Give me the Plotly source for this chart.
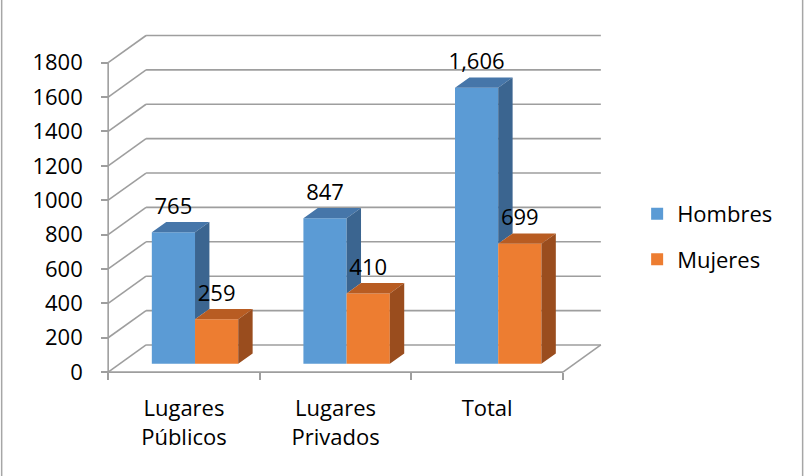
import plotly.graph_objects as go

# ---- data ----
categories = ["Lugares<br>Públicos", "Lugares<br>Privados", "Total"]
series_names = ["Hombres", "Mujeres"]
hombres = [765, 847, 1606]
mujeres = [259, 410, 699]
y_ticks = [0, 200, 400, 600, 800, 1000, 1200, 1400, 1600, 1800]

# ---- styling / pseudo-3D geometry (x in category units, y in value units) ----
FONT = "Open Sans"
FS = 22
GRID = "#9e9e9e"
FRONT = ["#5B9BD5", "#ED7D31"]
TOP = ["#4676A9", "#B85C22"]
SIDE = ["#3B6590", "#9A4D1E"]

BAR_W = 0.285          # width of each bar face
FRONT_DX, FRONT_DV = 0.073, 48    # offset of the bar front plane from the floor front edge
DEPTH_DX, DEPTH_DV = 0.095, 60    # depth of each bar
WALL_DX, WALL_DV = 0.25, 158      # depth of the back wall
LABEL_DV = 140                    # gap between a bar's front top and its value label
N = len(categories)

XL, XR = -0.1, 3.35
YB, YT = -40, 1990

values = [hombres, mujeres]

fig = go.Figure()

# front faces of the bars
lefts = []
for s, vals in enumerate(values):
    left = [i + 0.5 + FRONT_DX - BAR_W + s * BAR_W for i in range(N)]
    lefts.append(left)
    fig.add_trace(go.Bar(
        x=[l + BAR_W / 2 for l in left], y=vals, base=FRONT_DV, width=BAR_W,
        name=series_names[s], legendgroup=series_names[s],
        marker=dict(color=FRONT[s], line=dict(width=0)),
        hoverinfo="skip",
    ))

# top and side faces
for s, vals in enumerate(values):
    tx, ty, sx, sy = [], [], [], []
    for i, v in enumerate(vals):
        L = lefts[s][i]
        R = L + BAR_W
        top = FRONT_DV + v
        tx += [L, R, R + DEPTH_DX, L + DEPTH_DX, L, None]
        ty += [top, top, top + DEPTH_DV, top + DEPTH_DV, top, None]
        # the lower part of the first series' side face is hidden by the next bar
        low = FRONT_DV + (values[s + 1][i] if s + 1 < len(values) else 0)
        sx += [R, R + DEPTH_DX, R + DEPTH_DX, R, R, None]
        sy += [low, low + DEPTH_DV, top + DEPTH_DV, top, low, None]
    fig.add_trace(go.Scatter(x=tx, y=ty, mode="lines", fill="toself",
                             fillcolor=TOP[s], line=dict(width=0, color=TOP[s]),
                             showlegend=False, hoverinfo="skip"))
    fig.add_trace(go.Scatter(x=sx, y=sy, mode="lines", fill="toself",
                             fillcolor=SIDE[s], line=dict(width=0, color=SIDE[s]),
                             showlegend=False, hoverinfo="skip"))

# value labels
for s, vals in enumerate(values):
    fig.add_trace(go.Scatter(
        x=[l + BAR_W / 2 for l in lefts[s]],
        y=[FRONT_DV + v + LABEL_DV for v in vals],
        mode="text", text=[f"{v:,}" for v in vals],
        textposition="middle center",
        textfont=dict(family=FONT, size=FS, color="black"),
        showlegend=False, hoverinfo="skip", cliponaxis=False,
    ))

# invisible trace carrying the tick-mark axis
fig.add_trace(go.Scatter(x=[None], y=[None], xaxis="x2", showlegend=False, hoverinfo="skip"))

# walls, floor and gridlines
shapes = []
line = dict(color=GRID, width=1.6)
for v in y_ticks:
    shapes.append(dict(type="line", xref="x", yref="y", x0=0, y0=v, x1=WALL_DX, y1=v + WALL_DV,
                       line=line, layer="below"))
    shapes.append(dict(type="line", xref="x", yref="y", x0=WALL_DX, y0=v + WALL_DV, x1=N + WALL_DX,
                       y1=v + WALL_DV, line=line, layer="below"))
shapes.append(dict(type="line", xref="x", yref="y", x0=0, y0=0, x1=N, y1=0, line=line, layer="below"))
shapes.append(dict(type="line", xref="x", yref="y", x0=N, y0=0, x1=N + WALL_DX, y1=WALL_DV,
                   line=line, layer="below"))
shapes.append(dict(type="line", xref="x", yref="y", x0=0, y0=0, x1=0, y1=y_ticks[-1],
                   line=line, layer="below"))

# chart frame (left and right edges)
W, H = 804, 476
l_px = 108 + XL * 151.6
plot_w = (XR - XL) * 151.6
r_px = W - l_px - plot_w
bottom_px = 372.3 - YB * 0.172
top_px = 372.3 - YT * 0.172
b_px = H - bottom_px
for px in (1.5, 802.5):
    xp = (px - l_px) / plot_w
    shapes.append(dict(type="line", xref="paper", yref="paper", x0=xp, x1=xp, y0=-1, y1=2,
                       line=dict(color="#a6a6a6", width=1.5)))

xpos = (0 - YB) / (YT - YB)
ypos = (0 - XL) / (XR - XL)
plot_h = bottom_px - top_px

fig.update_layout(
    width=W, height=H,
    margin=dict(l=l_px, r=r_px, t=top_px, b=b_px, pad=0),
    paper_bgcolor="white", plot_bgcolor="white",
    barmode="overlay",
    font=dict(family=FONT, size=FS, color="black"),
    shapes=shapes,
    xaxis=dict(range=[XL, XR], tickvals=[0.5, 1.5, 2.5], ticktext=categories,
               ticks="", showgrid=False, zeroline=False, showline=False,
               anchor="free", position=xpos, ticklabelstandoff=21,
               tickfont=dict(family=FONT, size=FS, color="black")),
    xaxis2=dict(range=[XL, XR], overlaying="x", anchor="free", position=xpos,
                tickvals=list(range(N + 1)), ticks="outside", ticklen=7, tickwidth=1.5,
                tickcolor=GRID, showticklabels=False, showgrid=False, zeroline=False,
                showline=False),
    yaxis=dict(range=[YB, YT], tickvals=y_ticks, ticks="outside", ticklen=7, tickwidth=1.5,
               tickcolor=GRID, showgrid=False, zeroline=False, showline=False,
               anchor="free", position=ypos, ticklabelstandoff=14,
               tickfont=dict(family=FONT, size=FS, color="black")),
    legend=dict(x=(637 - l_px) / plot_w, xanchor="left",
                y=(bottom_px - 237) / plot_h, yanchor="middle",
                tracegroupgap=14, traceorder="grouped",
                font=dict(family=FONT, size=FS, color="black"),
                bgcolor="rgba(0,0,0,0)"),
    showlegend=True,
)

fig.write_html("out.html")
